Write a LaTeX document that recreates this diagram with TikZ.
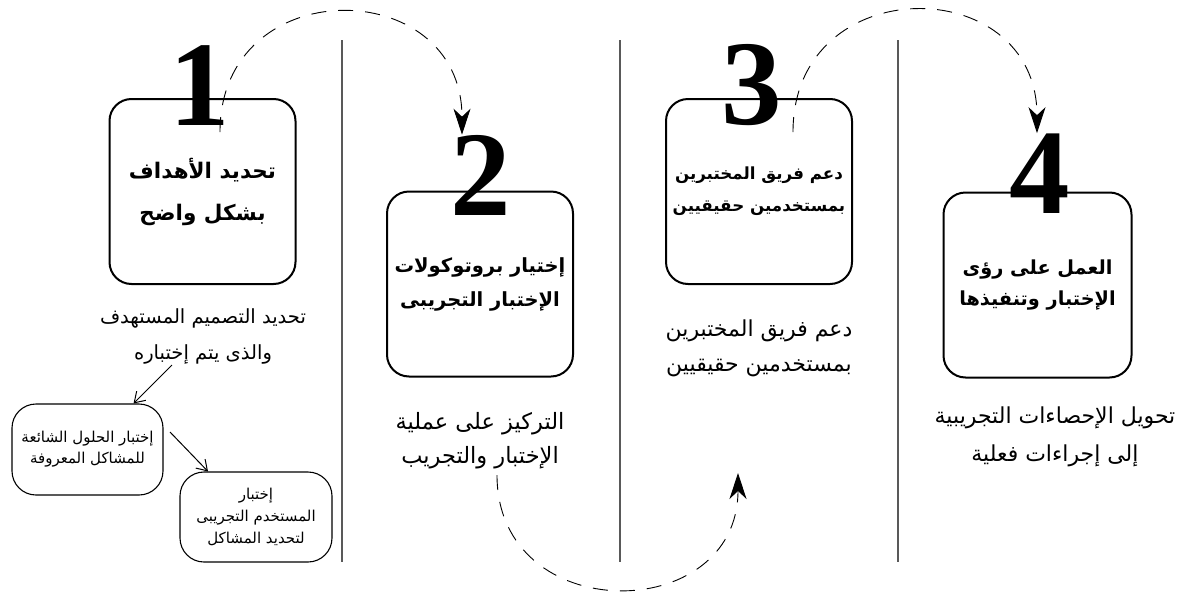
\documentclass[tikz,border=0pt]{standalone}
\usepackage{fontspec}
\usetikzlibrary{arrows.meta}
\TeXXeTstate=1
\newfontfamily\arfont[Script=Arabic]{DejaVu Sans}
\newfontfamily\numfont{Liberation Serif}
\newcommand{\RL}[1]{\beginR #1\endR}
\newcommand{\fs}[2]{\fontsize{#1}{#2}\selectfont}
\begin{document}
\begin{tikzpicture}[x=1pt,y=1pt,
  stagebox/.style={draw, line width=2pt, rounded corners=22pt, minimum width=186pt,
    minimum height=185pt, inner sep=0pt, align=center},
  digit/.style={inner sep=0pt, anchor=base, font=\numfont\bfseries\fs{121}{121}},
  note/.style={inner sep=0pt, align=center},
  subbox/.style={draw, line width=1.1pt, rounded corners=24pt, minimum width=151pt,
    minimum height=91pt, inner sep=0pt, align=center},
  divider/.style={line width=1.2pt, black!65},
  hop/.style={line width=0.9pt, dash pattern=on 15pt off 12pt,
    -{Stealth[length=26pt, width=17pt, inset=8pt]}},
  pointer/.style={line width=1pt, -{Straight Barb[length=10pt, width=13pt]}}]

\useasboundingbox (0,0) rectangle (1179,-592);

% column dividers
\draw[divider] (342,-40) -- (342,-562);
\draw[divider] (620,-40) -- (620,-562);
\draw[divider] (898,-40) -- (898,-562);

% stage boxes
\node[stagebox, font=\arfont\bfseries\fs{21.5}{42}] (b1) at (202.5,-191.5) {\RL{تحديد الأهداف}\\\RL{بشكل واضح}};
\node[stagebox, font=\arfont\bfseries\fs{19.5}{34}] (b2) at (480,-284) {\RL{إختيار بروتوكولات}\\\RL{الإختبار التجريبى}};
\node[stagebox, font=\arfont\bfseries\fs{16.7}{32}] (b3) at (759,-191.5) {\RL{دعم فريق المختبرين}\\\RL{بمستخدمين حقيقيين}};
\node[stagebox, minimum width=188pt, font=\arfont\bfseries\fs{19.3}{31}] (b4) at (1037.5,-285) {\RL{العمل على رؤى}\\\RL{الإختبار وتنفيذها}};

% step numbers
\node[digit] (d1) at (200,-125) {1};
\node[digit] (d2) at (481,-215) {2};
\node[digit] (d3) at (752,-124) {3};
\node[digit] (d4) at (1040,-213) {4};

% descriptions
\node[note, font=\arfont\fs{19.5}{36}] (t1) at (203,-336) {\RL{تحديد التصميم المستهدف}\\\RL{والذى يتم إختباره}};
\node[note, font=\arfont\fs{22.5}{34}] (t2) at (480,-441) {\RL{التركيز على عملية}\\\RL{الإختبار والتجريب}};
\node[note, font=\arfont\fs{22}{35}] (t3) at (759,-348) {\RL{دعم فريق المختبرين}\\\RL{بمستخدمين حقيقيين}};
\node[note, font=\arfont\fs{22}{38}] (t4) at (1055,-437) {\RL{تحويل الإحصاءات التجريبية}\\\RL{إلى إجراءات فعلية}};

% sub-steps of the first stage
\node[subbox, font=\arfont\fs{15}{21}] (sa) at (87.5,-449.5) {\RL{إختبار الحلول الشائعة}\\\RL{للمشاكل المعروفة}};
\node[subbox, minimum width=152pt, minimum height=90pt, font=\arfont\fs{15}{22}] (sb) at (256,-517) {\RL{إختبار}\\\RL{المستخدم التجريبى}\\\RL{لتحديد المشاكل}};

\coordinate (p1) at (172,-365);
\coordinate (p2) at (170,-432);
\draw[pointer] (p1) -- (sa.45);
\draw[pointer] (p2) -- ([xshift=-48pt]sb.north);

% dashed hops between stages
\coordinate (h1) at (220,-132);
\coordinate (h3) at (793,-132);
\coordinate (h2s) at (497,-475);
\coordinate (h2e) at (738,-473);
\draw[hop] (h1) to[out=90, in=90, looseness=1.7] ([xshift=-19pt]d2.north);
\draw[hop] (h2s) to[out=-90, in=-90, looseness=1.62] (h2e);
\draw[hop] (h3) to[out=90, in=90, looseness=1.7] ([xshift=-3pt]d4.north);
\end{tikzpicture}
\end{document}
